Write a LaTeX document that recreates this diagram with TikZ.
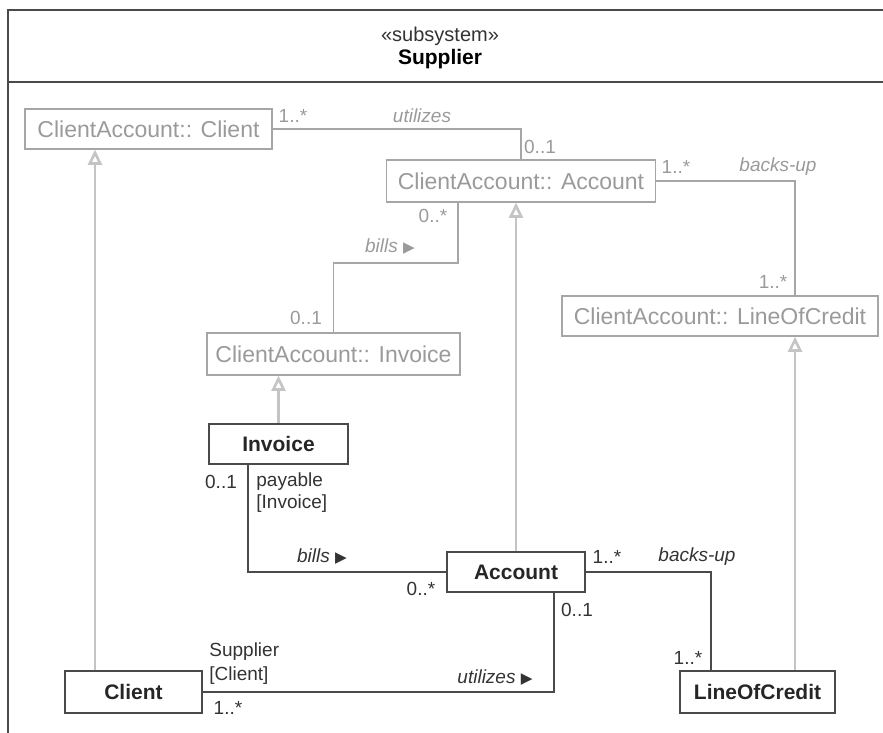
\documentclass[tikz,border=0pt]{standalone}
\usepackage{fontspec}
\setmainfont{Liberation Sans}
\newfontfamily\symfont{DejaVu Sans}
\usetikzlibrary{arrows.meta}

\definecolor{ghost}{HTML}{A6A6A6}
\definecolor{ghosttext}{HTML}{9A9A9A}
\definecolor{ink}{HTML}{4A4A4A}
\definecolor{gencol}{HTML}{C4C4C4}

\newcommand{\tri}{{\symfont\scalebox{0.8}{▶}}}

\tikzset{
  ghostbox/.style={draw=ghost, line width=0.8pt, text=ghosttext, minimum height=20pt,
    font=\fontsize{11.5}{13}\selectfont, inner sep=2pt},
  classbox/.style={draw=ink, line width=1pt, text=black!85, minimum height=20pt,
    font=\bfseries\fontsize{10.5}{12}\selectfont, inner sep=2pt},
  ghostassoc/.style={draw=ghost, line width=0.6pt},
  assoc/.style={draw=ink, line width=0.9pt},
  genline/.style={draw=gencol, line width=1.3pt, -{Triangle[open, width=7pt, length=7.5pt]}},
  ghostlbl/.style={text=ghosttext, font=\fontsize{9.5}{11}\selectfont, inner sep=1pt},
  lbl/.style={text=black!80, font=\fontsize{9.5}{11}\selectfont, inner sep=1pt},
}

\begin{document}
\begin{tikzpicture}[x=0.5pt, y=-0.5pt]
  \useasboundingbox (0,0) rectangle (883,733);
  % subsystem frame
  \draw[ink, line width=1pt] (883,10) -- (8,10) -- (8,733);
  \draw[ink, line width=1pt] (8,82) -- (883,82);
  \node[lbl, font=\fontsize{10}{12}\selectfont] (stereo) at (440,36) {«subsystem»};
  \node[lbl, font=\bfseries\fontsize{10.5}{12}\selectfont, text=black] (subname) at (440,59) {Supplier};

  % imported classes
  \node[ghostbox, minimum width=123.5pt] (caclient) at (148.5,129) {ClientAccount:: Client};
  \node[ghostbox, minimum width=134.5pt, minimum height=21pt] (caaccount) at (521,181) {ClientAccount:: Account};
  \node[ghostbox, minimum width=158pt] (caloc) at (720,316) {ClientAccount:: LineOfCredit};
  \node[ghostbox, minimum width=126.5pt, minimum height=21pt] (cainvoice) at (333.5,354) {ClientAccount:: Invoice};

  % local classes
  \node[classbox, minimum width=69.5pt] (invoice) at (278.5,444) {Invoice};
  \node[classbox, minimum width=69pt] (account) at (516,572) {Account};
  \node[classbox, minimum width=68.5pt, minimum height=21pt] (client) at (133.5,692) {Client};
  \node[classbox, minimum width=77.5pt, minimum height=21pt] (loc) at (757.5,692) {LineOfCredit};

  % bend points
  \coordinate (billsturn) at (458,263);
  \coordinate (genclient) at (95,0);
  \coordinate (genloc) at (795,0);
  \coordinate (billsfoot) at (248,0);
  \coordinate (backsfoot) at (711,0);
  \coordinate (usesfoot) at (554,0);

  % generalizations
  \draw[genline] (client.north -| genclient) -- (caclient.south -| genclient);
  \draw[genline] (account.north) -- (account.north |- caaccount.south);
  \draw[genline] (invoice.north) -- (invoice.north |- cainvoice.south);
  \draw[genline] (loc.north -| genloc) -- (caloc.south -| genloc);

  % imported associations
  \draw[ghostassoc] (caclient.east) -| (caaccount.north);
  \node[ghostlbl] (m1) at (293,116) {1..*};
  \node[ghostlbl, font=\itshape\fontsize{9.5}{11}\selectfont] (n1) at (422,116) {utilizes};
  \node[ghostlbl] (m2) at (540,147) {0..1};

  \draw[ghostassoc] (caaccount.east) -| (caloc.north -| genloc);
  \node[ghostlbl] (m3) at (676,167) {1..*};
  \node[ghostlbl, font=\itshape\fontsize{9.5}{11}\selectfont] (n2) at (778,167) {backs-up};
  \node[ghostlbl] (m4) at (773,282) {1..*};

  \draw[ghostassoc] (caaccount.south -| billsturn) -- (billsturn) -| (cainvoice.north);
  \node[ghostlbl] (m5) at (433,216) {0..*};
  \node[ghostlbl, font=\itshape\fontsize{9.5}{11}\selectfont] (n3) at (390,247) {bills \tri};
  \node[ghostlbl] (m6) at (306,318) {0..1};

  % local associations
  \draw[assoc] (invoice.south -| billsfoot) |- (account.west);
  \node[lbl] (m7) at (221,482) {0..1};
  \node[lbl, anchor=west] (r1) at (254,482) {payable};
  \node[lbl, anchor=west] (r2) at (254,504) {[Invoice]};
  \node[lbl, font=\itshape\fontsize{9.5}{11}\selectfont] (n4) at (322,557) {bills \tri};
  \node[lbl] (m8) at (421,589) {0..*};

  \draw[assoc] (account.east) -| (loc.north -| backsfoot);
  \node[lbl] (m9) at (607,557) {1..*};
  \node[lbl, font=\itshape\fontsize{9.5}{11}\selectfont] (n5) at (697,557) {backs-up};
  \node[lbl] (m10) at (688,658) {1..*};

  \draw[assoc] (client.east) -| (account.south -| usesfoot);
  \node[lbl, anchor=west] (r3) at (207,652) {Supplier};
  \node[lbl, anchor=west] (r4) at (207,676) {[Client]};
  \node[lbl] (m11) at (228,708) {1..*};
  \node[lbl, font=\itshape\fontsize{9.5}{11}\selectfont] (n6) at (495,678) {utilizes \tri};
  \node[lbl] (m12) at (577,610) {0..1};
\end{tikzpicture}
\end{document}
